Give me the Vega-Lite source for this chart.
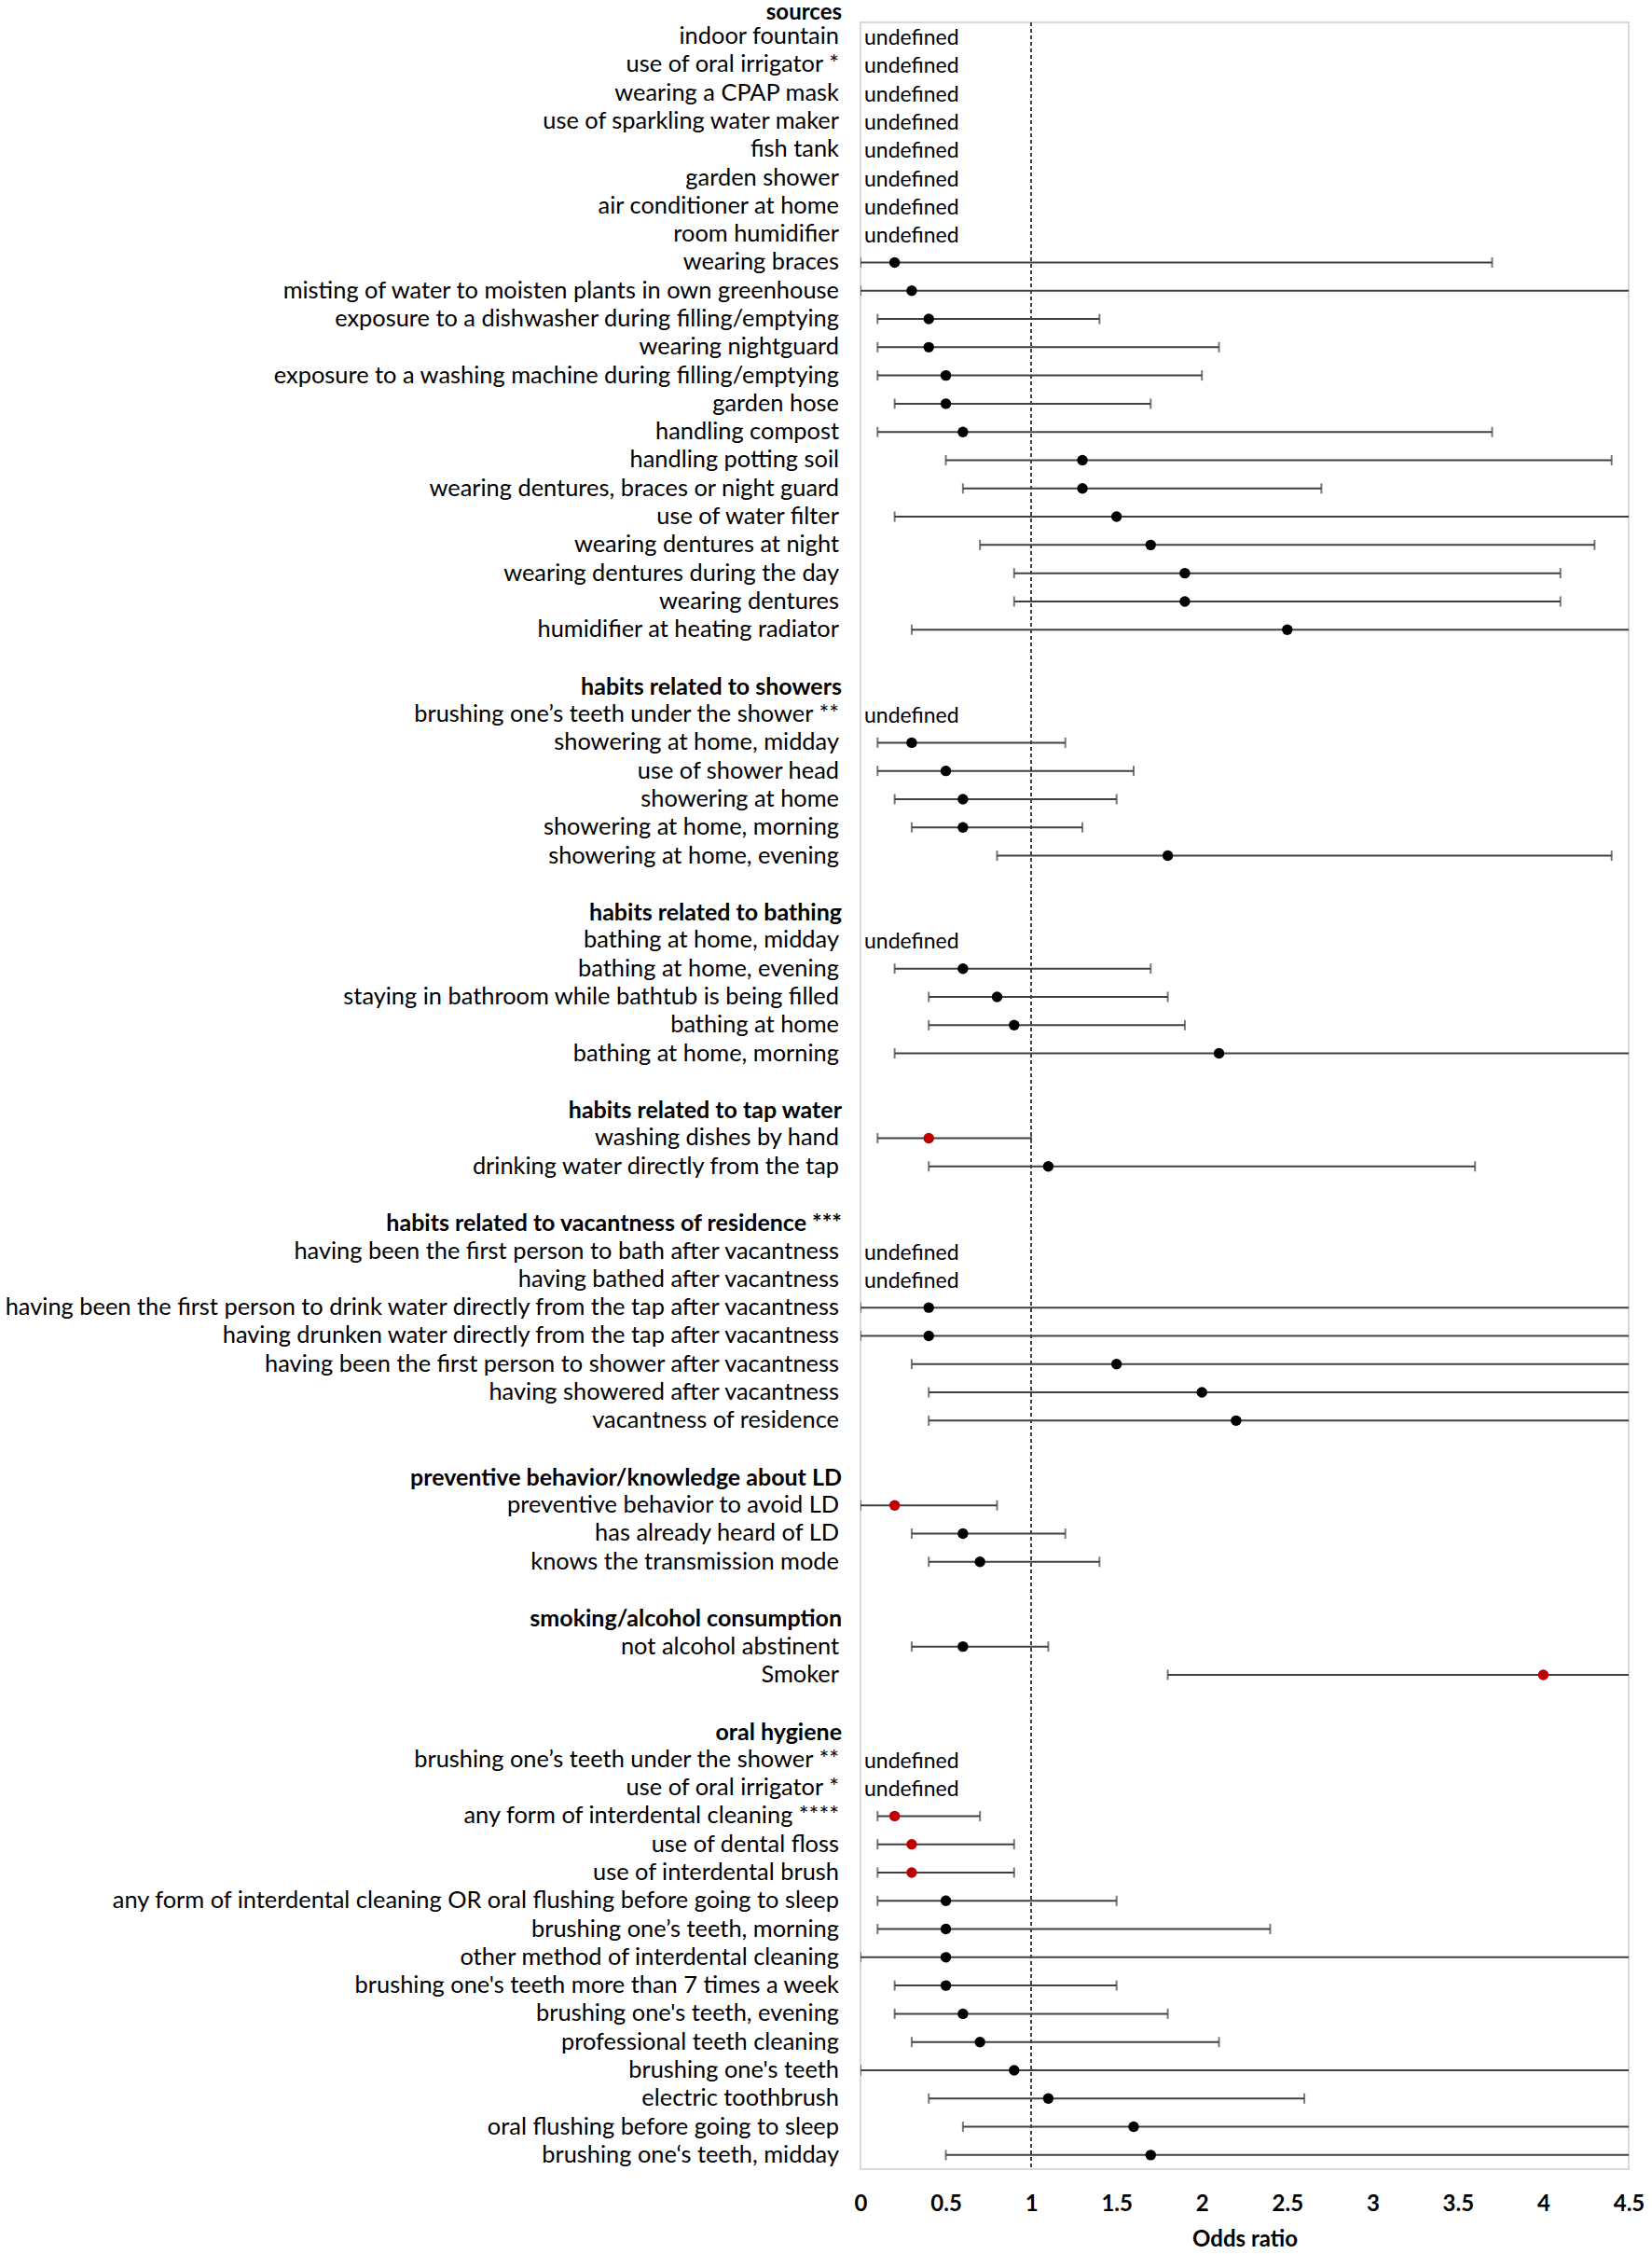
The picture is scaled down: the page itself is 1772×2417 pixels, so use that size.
{
  "$schema": "https://vega.github.io/schema/vega-lite/v6.json",
  "autosize": {"type": "none"},
  "padding": {"left": 923, "top": 24, "right": 25, "bottom": 91},
  "width": 824,
  "height": 2302,
  "background": "white",
  "config": {
    "view": {"stroke": "#D9D9D9", "strokeWidth": 2},
    "font": "Lato"
  },
  "data": {
    "values": [
      {"row": -1, "label": "sources", "kind": "header"},
      {"row": 0, "label": "indoor fountain", "kind": "item", "note": "undefined"},
      {"row": 1, "label": "use of oral irrigator *", "kind": "item", "note": "undefined"},
      {"row": 2, "label": "wearing a CPAP mask", "kind": "item", "note": "undefined"},
      {"row": 3, "label": "use of sparkling water maker", "kind": "item", "note": "undefined"},
      {"row": 4, "label": "fish tank", "kind": "item", "note": "undefined"},
      {"row": 5, "label": "garden shower", "kind": "item", "note": "undefined"},
      {"row": 6, "label": "air conditioner at home", "kind": "item", "note": "undefined"},
      {"row": 7, "label": "room humidifier", "kind": "item", "note": "undefined"},
      {"row": 8, "label": "wearing braces", "kind": "item", "or": 0.2, "lo": 0.0, "hi": 3.7, "sig": false},
      {"row": 9, "label": "misting of water to moisten plants in own greenhouse", "kind": "item", "or": 0.3, "lo": 0.0, "hi": 6.0, "sig": false},
      {"row": 10, "label": "exposure to a dishwasher during filling/emptying", "kind": "item", "or": 0.4, "lo": 0.1, "hi": 1.4, "sig": false},
      {"row": 11, "label": "wearing nightguard", "kind": "item", "or": 0.4, "lo": 0.1, "hi": 2.1, "sig": false},
      {"row": 12, "label": "exposure to a washing machine during filling/emptying", "kind": "item", "or": 0.5, "lo": 0.1, "hi": 2.0, "sig": false},
      {"row": 13, "label": "garden hose", "kind": "item", "or": 0.5, "lo": 0.2, "hi": 1.7, "sig": false},
      {"row": 14, "label": "handling compost", "kind": "item", "or": 0.6, "lo": 0.1, "hi": 3.7, "sig": false},
      {"row": 15, "label": "handling potting soil", "kind": "item", "or": 1.3, "lo": 0.5, "hi": 4.4, "sig": false},
      {"row": 16, "label": "wearing dentures, braces or night guard", "kind": "item", "or": 1.3, "lo": 0.6, "hi": 2.7, "sig": false},
      {"row": 17, "label": "use of water filter", "kind": "item", "or": 1.5, "lo": 0.2, "hi": 6.0, "sig": false},
      {"row": 18, "label": "wearing dentures at night", "kind": "item", "or": 1.7, "lo": 0.7, "hi": 4.3, "sig": false},
      {"row": 19, "label": "wearing dentures during the day", "kind": "item", "or": 1.9, "lo": 0.9, "hi": 4.1, "sig": false},
      {"row": 20, "label": "wearing dentures", "kind": "item", "or": 1.9, "lo": 0.9, "hi": 4.1, "sig": false},
      {"row": 21, "label": "humidifier at heating radiator", "kind": "item", "or": 2.5, "lo": 0.3, "hi": 6.0, "sig": false},
      {"row": 23, "label": "habits related to showers", "kind": "header"},
      {"row": 24, "label": "brushing one’s teeth under the shower **", "kind": "item", "note": "undefined"},
      {"row": 25, "label": "showering at home, midday", "kind": "item", "or": 0.3, "lo": 0.1, "hi": 1.2, "sig": false},
      {"row": 26, "label": "use of shower head", "kind": "item", "or": 0.5, "lo": 0.1, "hi": 1.6, "sig": false},
      {"row": 27, "label": "showering at home", "kind": "item", "or": 0.6, "lo": 0.2, "hi": 1.5, "sig": false},
      {"row": 28, "label": "showering at home, morning", "kind": "item", "or": 0.6, "lo": 0.3, "hi": 1.3, "sig": false},
      {"row": 29, "label": "showering at home, evening", "kind": "item", "or": 1.8, "lo": 0.8, "hi": 4.4, "sig": false},
      {"row": 31, "label": "habits related to bathing", "kind": "header"},
      {"row": 32, "label": "bathing at home, midday", "kind": "item", "note": "undefined"},
      {"row": 33, "label": "bathing at home, evening", "kind": "item", "or": 0.6, "lo": 0.2, "hi": 1.7, "sig": false},
      {"row": 34, "label": "staying in bathroom while bathtub is being filled", "kind": "item", "or": 0.8, "lo": 0.4, "hi": 1.8, "sig": false},
      {"row": 35, "label": "bathing at home", "kind": "item", "or": 0.9, "lo": 0.4, "hi": 1.9, "sig": false},
      {"row": 36, "label": "bathing at home, morning", "kind": "item", "or": 2.1, "lo": 0.2, "hi": 6.0, "sig": false},
      {"row": 38, "label": "habits related to tap water", "kind": "header"},
      {"row": 39, "label": "washing dishes by hand", "kind": "item", "or": 0.4, "lo": 0.1, "hi": 1.0, "sig": true},
      {"row": 40, "label": "drinking water directly from the tap", "kind": "item", "or": 1.1, "lo": 0.4, "hi": 3.6, "sig": false},
      {"row": 42, "label": "habits related to vacantness of residence  ***", "kind": "header"},
      {"row": 43, "label": "having been the first person to bath after vacantness", "kind": "item", "note": "undefined"},
      {"row": 44, "label": "having bathed after vacantness", "kind": "item", "note": "undefined"},
      {"row": 45, "label": "having been the first person to drink water directly from the tap after vacantness", "kind": "item", "or": 0.4, "lo": 0.0, "hi": 6.0, "sig": false},
      {"row": 46, "label": "having drunken water directly from the tap after vacantness", "kind": "item", "or": 0.4, "lo": 0.0, "hi": 6.0, "sig": false},
      {"row": 47, "label": "having been the first person to shower after vacantness", "kind": "item", "or": 1.5, "lo": 0.3, "hi": 6.0, "sig": false},
      {"row": 48, "label": "having showered after vacantness", "kind": "item", "or": 2.0, "lo": 0.4, "hi": 6.0, "sig": false},
      {"row": 49, "label": "vacantness of residence", "kind": "item", "or": 2.2, "lo": 0.4, "hi": 6.0, "sig": false},
      {"row": 51, "label": "preventive behavior/knowledge about LD", "kind": "header"},
      {"row": 52, "label": "preventive behavior to avoid LD", "kind": "item", "or": 0.2, "lo": 0.0, "hi": 0.8, "sig": true},
      {"row": 53, "label": "has already heard of LD", "kind": "item", "or": 0.6, "lo": 0.3, "hi": 1.2, "sig": false},
      {"row": 54, "label": "knows the transmission mode", "kind": "item", "or": 0.7, "lo": 0.4, "hi": 1.4, "sig": false},
      {"row": 56, "label": "smoking/alcohol consumption", "kind": "header"},
      {"row": 57, "label": "not alcohol abstinent", "kind": "item", "or": 0.6, "lo": 0.3, "hi": 1.1, "sig": false},
      {"row": 58, "label": "Smoker", "kind": "item", "or": 4.0, "lo": 1.8, "hi": 6.0, "sig": true},
      {"row": 60, "label": "oral hygiene", "kind": "header"},
      {"row": 61, "label": "brushing one’s teeth under the shower **", "kind": "item", "note": "undefined"},
      {"row": 62, "label": "use of oral irrigator *", "kind": "item", "note": "undefined"},
      {"row": 63, "label": "any form of interdental cleaning ****", "kind": "item", "or": 0.2, "lo": 0.1, "hi": 0.7, "sig": true},
      {"row": 64, "label": "use of dental floss", "kind": "item", "or": 0.3, "lo": 0.1, "hi": 0.9, "sig": true},
      {"row": 65, "label": "use of interdental brush", "kind": "item", "or": 0.3, "lo": 0.1, "hi": 0.9, "sig": true},
      {"row": 66, "label": "any form of interdental cleaning OR oral flushing before going to sleep", "kind": "item", "or": 0.5, "lo": 0.1, "hi": 1.5, "sig": false},
      {"row": 67, "label": "brushing one’s teeth, morning", "kind": "item", "or": 0.5, "lo": 0.1, "hi": 2.4, "sig": false},
      {"row": 68, "label": "other method of interdental cleaning", "kind": "item", "or": 0.5, "lo": 0.0, "hi": 6.0, "sig": false},
      {"row": 69, "label": "brushing one's teeth more than 7 times a week", "kind": "item", "or": 0.5, "lo": 0.2, "hi": 1.5, "sig": false},
      {"row": 70, "label": "brushing one's teeth, evening", "kind": "item", "or": 0.6, "lo": 0.2, "hi": 1.8, "sig": false},
      {"row": 71, "label": "professional teeth cleaning", "kind": "item", "or": 0.7, "lo": 0.3, "hi": 2.1, "sig": false},
      {"row": 72, "label": "brushing one's teeth", "kind": "item", "or": 0.9, "lo": 0.0, "hi": 6.0, "sig": false},
      {"row": 73, "label": "electric toothbrush", "kind": "item", "or": 1.1, "lo": 0.4, "hi": 2.6, "sig": false},
      {"row": 74, "label": "oral flushing before going to sleep", "kind": "item", "or": 1.6, "lo": 0.6, "hi": 6.0, "sig": false},
      {"row": 75, "label": "brushing one‘s teeth, midday", "kind": "item", "or": 1.7, "lo": 0.5, "hi": 6.0, "sig": false}
    ]
  },
  "encoding": {
    "y": {
      "field": "row",
      "type": "quantitative",
      "scale": {"domain": [-0.5, 75.5], "reverse": true, "nice": false, "zero": false},
      "axis": null
    }
  },
  "layer": [
    {
      "mark": {"type": "rule", "color": "#404040", "strokeWidth": 1.5, "strokeDash": [4, 3]},
      "encoding": {
        "x": {
          "datum": 1,
          "type": "quantitative",
          "scale": {"domain": [0, 4.5], "nice": false, "zero": false},
          "axis": {
            "values": [0, 0.5, 1, 1.5, 2, 2.5, 3, 3.5, 4, 4.5],
            "format": "~g",
            "domain": false,
            "ticks": false,
            "grid": false,
            "labelFlush": false,
            "labelOverlap": false,
            "labelFont": "Lato",
            "labelFontSize": 24,
            "labelFontWeight": "bold",
            "labelColor": "#000000",
            "labelPadding": 25,
            "title": "Odds ratio",
            "titleFont": "Lato",
            "titleFontSize": 24,
            "titleFontWeight": "bold",
            "titleColor": "#000000",
            "titlePadding": 14
          }
        },
        "y": null
      }
    },
    {
      "transform": [{"filter": "isValid(datum.or)"}],
      "mark": {"type": "rule", "color": "#404040", "strokeWidth": 2, "clip": true},
      "encoding": {
        "x": {"field": "lo", "type": "quantitative"},
        "x2": {"field": "hi"}
      }
    },
    {
      "transform": [{"filter": "isValid(datum.or)"}],
      "mark": {"type": "tick", "orient": "vertical", "color": "#404040", "size": 11, "thickness": 2, "clip": true},
      "encoding": {
        "x": {"field": "lo", "type": "quantitative"}
      }
    },
    {
      "transform": [{"filter": "isValid(datum.or)"}],
      "mark": {"type": "tick", "orient": "vertical", "color": "#404040", "size": 11, "thickness": 2, "clip": true},
      "encoding": {
        "x": {"field": "hi", "type": "quantitative"}
      }
    },
    {
      "transform": [{"filter": "isValid(datum.or)"}],
      "mark": {"type": "circle", "size": 130, "opacity": 1},
      "encoding": {
        "x": {"field": "or", "type": "quantitative"},
        "color": {"condition": {"test": "datum.sig", "value": "#C00000"}, "value": "#000000"}
      }
    },
    {
      "transform": [{"filter": "datum.kind == 'item'"}],
      "mark": {"type": "text", "align": "right", "baseline": "middle", "dx": -23, "font": "Lato", "fontSize": 25.4, "color": "#000000"},
      "encoding": {
        "x": {"datum": 0, "type": "quantitative"},
        "text": {"field": "label"}
      }
    },
    {
      "transform": [{"filter": "datum.kind == 'header' && datum.row >= 0"}],
      "mark": {"type": "text", "align": "right", "baseline": "middle", "dx": -20, "dy": 1, "font": "Lato", "fontSize": 25, "fontWeight": "bold", "color": "#000000"},
      "encoding": {
        "x": {"datum": 0, "type": "quantitative"},
        "text": {"field": "label"}
      }
    },
    {
      "transform": [{"filter": "datum.kind == 'header' && datum.row < 0"}],
      "mark": {"type": "text", "align": "right", "baseline": "middle", "dx": -20, "dy": 5, "font": "Lato", "fontSize": 24, "fontWeight": "bold", "color": "#000000"},
      "encoding": {
        "x": {"datum": 0, "type": "quantitative"},
        "text": {"field": "label"}
      }
    },
    {
      "transform": [{"filter": "isValid(datum.note)"}],
      "mark": {"type": "text", "align": "left", "baseline": "middle", "dx": 4, "dy": 2, "font": "Lato", "fontSize": 23, "color": "#000000"},
      "encoding": {
        "x": {"datum": 0, "type": "quantitative"},
        "text": {"field": "note"}
      }
    }
  ]
}
